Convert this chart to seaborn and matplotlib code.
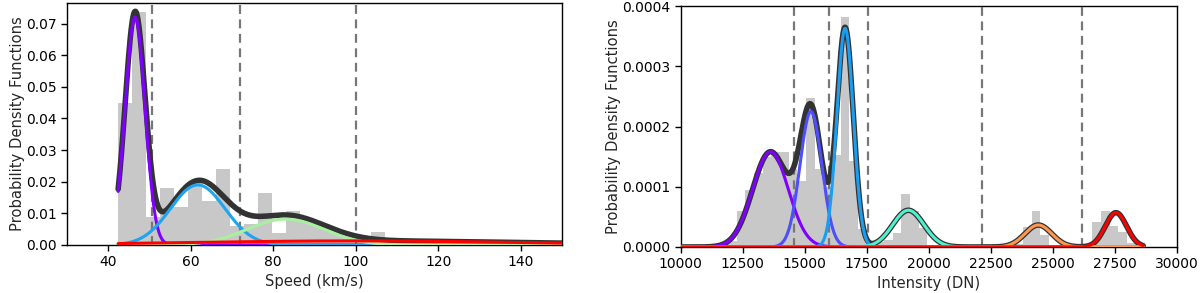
import numpy as np
import pandas as pd
import matplotlib
matplotlib.use("Agg")
import matplotlib.pyplot as plt
import seaborn as sns

# ---------------- data: speed panel ----------------
speed_edges_start = 42.4
speed_bin_width = 3.4
speed_hist = [0.045, 0.0735, 0.009, 0.018, 0.012, 0.0195, 0.014, 0.024, 0.006,
              0.0065, 0.0165, 0.0037, 0.0106, 0.008, 0.006, 0.004, 0.0025,
              0.0015, 0.004, 0.0022, 0.001, 0.0008, 0.0006, 0.0005, 0.0005,
              0.0004, 0.0004, 0.0003, 0.0003, 0.0002, 0.0002, 0.0002]
speed_means = [46.5, 61.7, 83.0, 100.0]
speed_sigmas = [2.41, 6.6, 9.3, 40.0]
speed_amps = [0.0720, 0.0190, 0.0082, 0.0013]
speed_colors = ["#8000ff", "#1ea4f0", "#a8f0a0", "#ff0000"]
speed_bounds = [50.5, 72.0, 100.0]

# ---------------- data: intensity panel ----------------
int_edges_start = 11550
int_bin_width = 350
int_hist = [0.000004, 0.00001, 0.00006, 0.000095, 0.000123, 0.00015, 0.000157,
            0.000157, 0.00013, 0.00011, 0.000248, 0.00013, 0.0001, 0.000153,
            0.000382, 0.000142, 0.00003, 0.000005, 0.000008, 0.000012,
            0.000023, 0.0000875, 0.00006, 0.000031, 0.000004, 0.0, 0.0, 0.0,
            0.0, 0.0, 0.0, 0.0, 0.0, 0.0, 0.000005, 0.0000337, 0.0000605,
            0.00002, 0.000004, 0.0, 0.0, 0.0, 0.0, 0.000042, 0.00006,
            0.000035, 0.000025, 0.000006]
int_means = [13620, 15250, 16630, 19180, 24420, 27550]
int_sigmas = [720, 440, 330, 630, 540, 430]
int_amps = [0.000158, 0.000225, 0.000363, 0.000061, 0.0000365, 0.000057]
int_colors = ["#8000ff", "#4d4ffc", "#1a9ef2", "#4df3ce", "#ff964f", "#ff0000"]
int_bounds = [14580, 15990, 17560, 22160, 26170]

# ---------------- style ----------------
sns.set_style("ticks")
plt.rcParams.update({
    "font.family": ["DejaVu Sans"],
    "font.size": 10,
    "axes.edgecolor": "black",
    "axes.linewidth": 1.0,
    "xtick.color": "black",
    "ytick.color": "black",
    "xtick.labelsize": 10,
    "ytick.labelsize": 10,
    "axes.labelsize": 10.6,
})

fig = plt.figure(figsize=(12, 2.93), dpi=100)
ax1 = fig.add_axes([67 / 1200, 48 / 293, 495 / 1200, 242 / 293])
ax2 = fig.add_axes([680.7 / 1200, 46 / 293, 496 / 1200, 241 / 293])

HIST_COLOR = "#c8c8c8"


def gauss(x, m, s, a):
    return a * np.exp(-0.5 * ((x - m) / s) ** 2)


def draw_panel(ax, start, width, hist, means, sigmas, amps, colors, bounds, xgrid):
    edges = [float(start + width * i) for i in range(len(hist) + 1)]
    centers = [(edges[i] + edges[i + 1]) / 2 for i in range(len(hist))]
    df = pd.DataFrame({"x": centers, "w": [float(h) for h in hist]})
    sns.histplot(data=df, x="x", weights="w", bins=edges, color=HIST_COLOR,
                 alpha=1.0, linewidth=0, ax=ax)
    comps = [gauss(xgrid, m, s, a) for m, s, a in zip(means, sigmas, amps)]
    total = np.sum(comps, axis=0)
    for b in bounds:
        ax.axvline(b, color="#777777", linestyle=(0, (4, 2.5)), linewidth=1.6, zorder=3)
    sns.lineplot(x=xgrid, y=total, color="#333333", linewidth=4.0, ax=ax,
                 sort=False, estimator=None, zorder=4)
    for c, col in zip(comps, colors):
        sns.lineplot(x=xgrid, y=c, color=col, linewidth=2.2, ax=ax,
                     sort=False, estimator=None, zorder=5)


xs = np.linspace(42.4, 152, 800)
draw_panel(ax1, speed_edges_start, speed_bin_width, speed_hist, speed_means,
           speed_sigmas, speed_amps, speed_colors, speed_bounds, xs)
ax1.set_xlim(30, 150)
ax1.set_ylim(0, 0.0765)
ax1.set_xticks([40, 60, 80, 100, 120, 140])
ax1.set_yticks([0, 0.01, 0.02, 0.03, 0.04, 0.05, 0.06, 0.07])
ax1.set_yticklabels([f"{v:.2f}" for v in ax1.get_yticks()])
ax1.set_xlabel("Speed (km/s)", labelpad=3)
ax1.set_ylabel("Probability Density Functions", labelpad=0.5)

xi = np.linspace(10000, 28650, 1500)
draw_panel(ax2, int_edges_start, int_bin_width, int_hist, int_means,
           int_sigmas, int_amps, int_colors, int_bounds, xi)
ax2.set_xlim(10000, 30000)
ax2.set_ylim(0, 0.0004)
ax2.set_xticks(np.arange(10000, 30001, 2500))
ax2.set_xticklabels([str(v) for v in range(10000, 30001, 2500)])
ax2.set_yticks([0, 0.0001, 0.0002, 0.0003, 0.0004])
ax2.set_yticklabels([f"{v:.4f}" for v in [0, 0.0001, 0.0002, 0.0003, 0.0004]])
ax2.set_xlabel("Intensity (DN)", labelpad=3)
ax2.set_ylabel("Probability Density Functions", labelpad=1)

for ax in (ax1, ax2):
    for sp in ax.spines.values():
        sp.set_visible(True)
        sp.set_color("black")
    ax.tick_params(direction="out", length=4, width=1)

fig.savefig("out.png", dpi=100)
